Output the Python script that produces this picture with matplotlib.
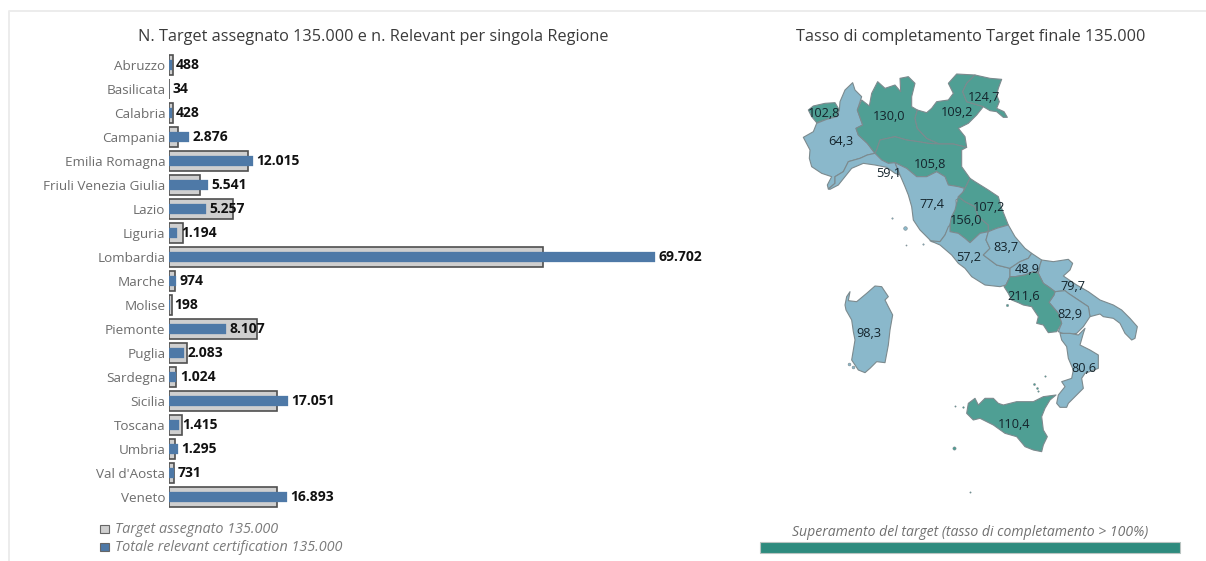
import matplotlib
matplotlib.use("Agg")
import matplotlib.pyplot as plt
from matplotlib.patches import Polygon, Rectangle

plt.rcParams['font.family'] = ['Open Sans', 'DejaVu Sans']

regions = ["Abruzzo", "Basilicata", "Calabria", "Campania", "Emilia Romagna",
           "Friuli Venezia Giulia", "Lazio", "Liguria", "Lombardia", "Marche",
           "Molise", "Piemonte", "Puglia", "Sardegna", "Sicilia", "Toscana",
           "Umbria", "Val d'Aosta", "Veneto"]
relevant = [488, 34, 428, 2876, 12015, 5541, 5257, 1194, 69702, 974, 198, 8107,
            2083, 1024, 17051, 1415, 1295, 731, 16893]
relevant_labels = ["488", "34", "428", "2.876", "12.015", "5.541", "5.257", "1.194",
                   "69.702", "974", "198", "8.107", "2.083", "1.024", "17.051",
                   "1.415", "1.295", "731", "16.893"]
target = [583, 41, 531, 1359, 11356, 4443, 9190, 2020, 53617, 908, 405, 12608,
          2613, 1042, 15445, 1828, 830, 711, 15470]
rate_labels = ["83,7", "82,9", "80,6", "211,6", "105,8", "124,7", "57,2", "59,1",
               "130,0", "107,2", "48,9", "64,3", "79,7", "98,3", "110,4", "77,4",
               "156,0", "102,8", "109,2"]

title_left = "N. Target assegnato 135.000 e n. Relevant per singola Regione"
title_right = "Tasso di completamento Target finale 135.000"
legend_target = "Target assegnato 135.000"
legend_relevant = "Totale relevant certification 135.000"
legend_over = "Superamento del target (tasso di completamento > 100%)"

# A, B, C name the crop each outline was traced on.
CROPS = {"A": (780, 60), "B": (900, 170), "C": (830, 290)}
outlines = {
    "Val d'Aosta": ("A", [(85,150),(100,138),(135,130),(165,128),(178,150),(170,170),(140,178),(110,188),(95,170)]),
    "Piemonte": ("A", [(218,68),(225,90),(245,110),(232,150),(248,195),(228,205),(235,225),(262,250),(285,280),(262,285),(240,295),(205,305),(190,335),(165,350),(165,370),(145,387),(142,375),(155,350),(125,340),(95,320),(88,295),(90,270),(70,232),(100,215),(110,190),(140,178),(170,170),(178,150),(180,125),(195,90)]),
    "Lombardia": ("A", [(232,150),(245,120),(268,138),(275,100),(293,65),(315,85),(345,75),(362,95),(360,55),(385,50),(405,70),(395,110),(395,140),(412,150),(405,175),(412,205),(440,235),(478,252),(445,250),(415,245),(380,240),(345,230),(300,240),(290,270),(285,280),(262,250),(235,225),(228,205),(248,195)]),
    "Veneto": ("A", [(405,175),(412,150),(440,158),(455,145),(470,125),(505,120),(520,100),(505,70),(530,42),(585,45),(560,70),(548,95),(560,125),(610,140),(590,165),(565,190),(535,205),(555,230),(560,262),(520,252),(478,252),(440,235),(412,205)]),
    "Friuli Venezia Giulia": ("A", [(585,45),(630,55),(665,58),(655,85),(650,105),(658,125),(650,145),(672,155),(682,172),(670,172),(650,155),(630,152),(610,140),(560,125),(548,95),(560,70)]),
    "Emilia Romagna": ("A", [(300,240),(345,230),(380,240),(415,245),(445,250),(478,252),(520,252),(560,262),(545,270),(545,320),(570,355),(555,385),(535,380),(505,375),(495,350),(470,335),(440,350),(410,350),(380,325),(345,308),(325,310),(305,300),(285,280),(290,270)]),
    "Liguria": ("A", [(145,387),(165,370),(165,350),(190,335),(205,305),(240,295),(262,285),(285,280),(305,300),(325,310),(345,308),(360,345),(345,340),(320,322),(285,315),(250,310),(215,325),(195,350),(175,375),(150,388)]),
    "Toscana": ("A", [(345,308),(380,325),(410,350),(440,350),(470,335),(495,350),(505,375),(535,380),(553,385),(545,410),(528,420),(530,445),(515,470),(510,495),(495,525),(480,545),(455,545),(420,510),(400,480),(395,440),(385,405),(375,380),(360,345)]),
    "Umbria": ("B", [(175,80),(195,95),(225,110),(235,140),(265,165),(265,185),(240,190),(210,218),(195,205),(175,190),(150,185),(150,165),(155,140),(165,120),(170,100)]),
    "Marche": ("B", [(195,55),(210,25),(225,35),(265,60),(295,80),(305,115),(325,165),(290,175),(265,185),(265,165),(235,140),(225,110),(195,95),(175,80),(190,65)]),
    "Lazio": ("B", [(150,165),(150,185),(175,190),(195,205),(210,218),(240,190),(265,185),(258,210),(270,235),(250,255),(290,285),(330,295),(330,320),(318,345),(300,350),(255,345),(215,320),(195,295),(175,280),(155,255),(120,225),(90,212),(120,215),(135,195),(145,170)]),
    "Abruzzo": ("B", [(265,185),(290,175),(325,165),(345,200),(375,235),(395,250),(385,265),(360,275),(345,285),(330,295),(290,285),(250,255),(270,235),(258,210)]),
    "Molise": ("B", [(395,250),(425,270),(420,285),(415,310),(400,305),(375,315),(345,320),(330,320),(330,295),(345,285),(360,275),(385,265)]),
    "Puglia": ("B", [(425,270),(460,275),(505,268),(518,280),(510,300),(490,318),(530,345),(565,365),(600,390),(640,405),(665,420),(690,445),(712,470),(705,505),(695,510),(675,490),(660,460),(640,445),(610,440),(600,432),(570,440),(565,410),(535,390),(505,370),(495,362),(465,365),(445,350),(430,340),(415,310),(420,285)]),
    "Basilicata": ("B", [(465,365),(495,362),(505,370),(535,390),(565,410),(570,440),(550,470),(530,490),(500,495),(475,485),(485,460),(475,430),(447,397),(462,375)]),
    "Campania": ("B", [(330,320),(345,320),(375,315),(400,305),(415,310),(430,340),(445,350),(465,365),(462,375),(447,397),(475,430),(485,460),(470,485),(445,488),(430,465),(410,460),(415,440),(395,410),(370,405),(355,398),(335,390),(325,370),(312,350),(318,345)]),
    "Calabria": ("C", [(690,130),(720,130),(745,135),(765,115),(760,130),(750,165),(780,180),(805,195),(805,235),(765,250),(755,265),(760,295),(740,315),(715,340),(710,352),(690,352),(680,340),(685,315),(705,290),(695,275),(725,265),(730,240),(715,205),(710,170),(695,150)]),
    "Sardegna": ("C", [(60,5),(50,20),(45,45),(48,60),(65,90),(70,125),(75,150),(65,210),(75,225),(85,240),(105,248),(120,235),(140,215),(165,218),(175,165),(180,120),(188,75),(175,50),(165,30),(175,20),(165,5),(155,-10),(135,-12),(110,10),(80,35),(55,32)]),
    "Sicilia": ("C", [(678,315),(660,330),(645,355),(635,380),(640,420),(652,440),(640,465),(635,485),(610,480),(585,470),(560,440),(525,430),(490,405),(450,385),(430,390),(410,370),(415,340),(435,325),(445,345),(465,325),(490,325),(505,340),(520,345),(560,335),(610,335),(640,320)]),
}
# (crop, x, y, size, region) small islands
islands = [("C", 372, 473, 2.3, "Sicilia"), ("C", 420, 606, 0.9, "Sicilia"), ("C", 376, 347, 0.9, "Sicilia"),
           ("C", 398, 352, 1.1, "Sicilia"), ("C", 612, 283, 1.4, "Sicilia"), ("C", 620, 295, 1.3, "Sicilia"),
           ("C", 623, 302, 1.0, "Sicilia"), ("C", 644, 258, 1.0, "Sicilia"), ("C", 57, 222, 2.0, "Sardegna"),
           ("C", 68, 232, 2.0, "Sardegna"), ("B", 322, 405, 1.6, "Campania"), ("B", 15, 173, 2.6, "Toscana"),
           ("B", 68, 222, 1.0, "Lazio"), ("B", 18, 225, 0.8, "Toscana"), ("A", 337, 473, 1.0, "Toscana")]
# Label anchor of each region, in the same crops
label_at = {
    "Val d'Aosta": ("A", 131, 157), "Piemonte": ("A", 183, 243), "Lombardia": ("A", 326, 166),
    "Veneto": ("A", 531, 155), "Friuli Venezia Giulia": ("A", 612, 110), "Emilia Romagna": ("A", 449, 312),
    "Liguria": ("A", 327, 337), "Toscana": ("A", 455, 430), "Umbria": ("A", 558, 480), "Marche": ("A", 627, 441),
    "Lazio": ("B", 205, 261), "Abruzzo": ("B", 317, 230), "Molise": ("B", 383, 295), "Puglia": ("B", 520, 348),
    "Basilicata": ("B", 510, 431), "Campania": ("B", 372, 377), "Calabria": ("C", 763, 234),
    "Sardegna": ("C", 118, 127), "Sicilia": ("C", 551, 402),
}


def to_px(crop, x, y):
    ox, oy = CROPS[crop]
    return ox + x / 3, oy + y / 3


W, H = 1206, 561
fig = plt.figure(figsize=(W / 100, H / 100), dpi=100, facecolor="white")

# full-figure layer measured in pixels for the map and furniture
layer = fig.add_axes([0, 0, 1, 1])
layer.set_xlim(0, W)
layer.set_ylim(H, 0)
layer.axis("off")

# frame
layer.plot([8.5, 8.5, W], [H, 11, 11], color="#ececec", lw=1.4, solid_capstyle="butt")

# bars
x0, x1, y0, y1 = 169, 700, 53, 509
ax = fig.add_axes([x0 / W, 1 - y1 / H, (x1 - x0) / W, (y1 - y0) / H])
ax.patch.set_alpha(0)
ypos = list(range(len(regions)))
ax.barh(ypos, target, height=20 / 24, color="#cfcfcf", edgecolor="#4f4f4f", linewidth=1.2, zorder=2)
ax.barh(ypos, relevant, height=10.5 / 24, color="#4e79a7", edgecolor="#4e79a7", linewidth=0.2, zorder=3)
ax.set_xlim(0, 531 / 0.00697)
ax.set_ylim(len(regions) - 0.5, -0.5)
for s in ax.spines.values():
    s.set_visible(False)
ax.set_xticks([])
ax.set_yticks(ypos, regions, fontsize=9.7, color="#6d6d6d")
ax.tick_params(axis="y", length=0, pad=2.6)
for y, v, t in zip(ypos, relevant, relevant_labels):
    ax.annotate(t, (v, y), xytext=(2.6, 0.0), textcoords="offset points", va="center", ha="left",
                fontsize=10, fontweight="bold", color="#111111", zorder=5)

# titles
layer.text(373.5, 36.5, title_left, ha="center", va="center", fontsize=11.72, color="#3a3a3a")
layer.text(970.5, 36.5, title_right, ha="center", va="center", fontsize=11.7, color="#3a3a3a")

# map
rate_by_region = dict(zip(regions, rate_labels))
GREEN, BLUE = "#4f9f94", "#8ab8cb"


def fill_of(name):
    return GREEN if float(rate_by_region[name].replace(",", ".")) > 100 else BLUE


for name, (crop, pts) in outlines.items():
    layer.add_patch(Polygon([to_px(crop, *p) for p in pts], closed=True, facecolor=fill_of(name),
                            edgecolor="#7c8a8e", linewidth=0.8, joinstyle="round", zorder=3))
for crop, x, y, s, name in islands:
    px, py = to_px(crop, x, y)
    layer.plot(px, py, "o", ms=s, color=fill_of(name), mec="#7c8a8e", mew=0.4, zorder=3)
for name, (crop, x, y) in label_at.items():
    px, py = to_px(crop, x, y)
    layer.text(px, py + 0.8, rate_by_region[name], ha="center", va="center", fontsize=9.2, color="#14242c", zorder=6)

# legends
for yy, col, txt in [(529, "#cfcfcf", legend_target), (547, "#4e79a7", legend_relevant)]:
    layer.add_patch(Rectangle((100, yy - 4.5), 8.5, 8.5, facecolor=col, edgecolor="#666666", linewidth=0.8, zorder=4))
    layer.text(115, yy + 0.8, txt, ha="left", va="center", fontsize=10.35, style="italic", color="#7b7b7b")
layer.text(970, 532.5, legend_over, ha="center", va="center", fontsize=10.1, style="italic", color="#707070")
layer.add_patch(Rectangle((760, 542), 420, 11, facecolor="#2e8b7e", edgecolor="#b9c4c1", linewidth=0.8, zorder=4))

fig.savefig("out.png", dpi=100)
